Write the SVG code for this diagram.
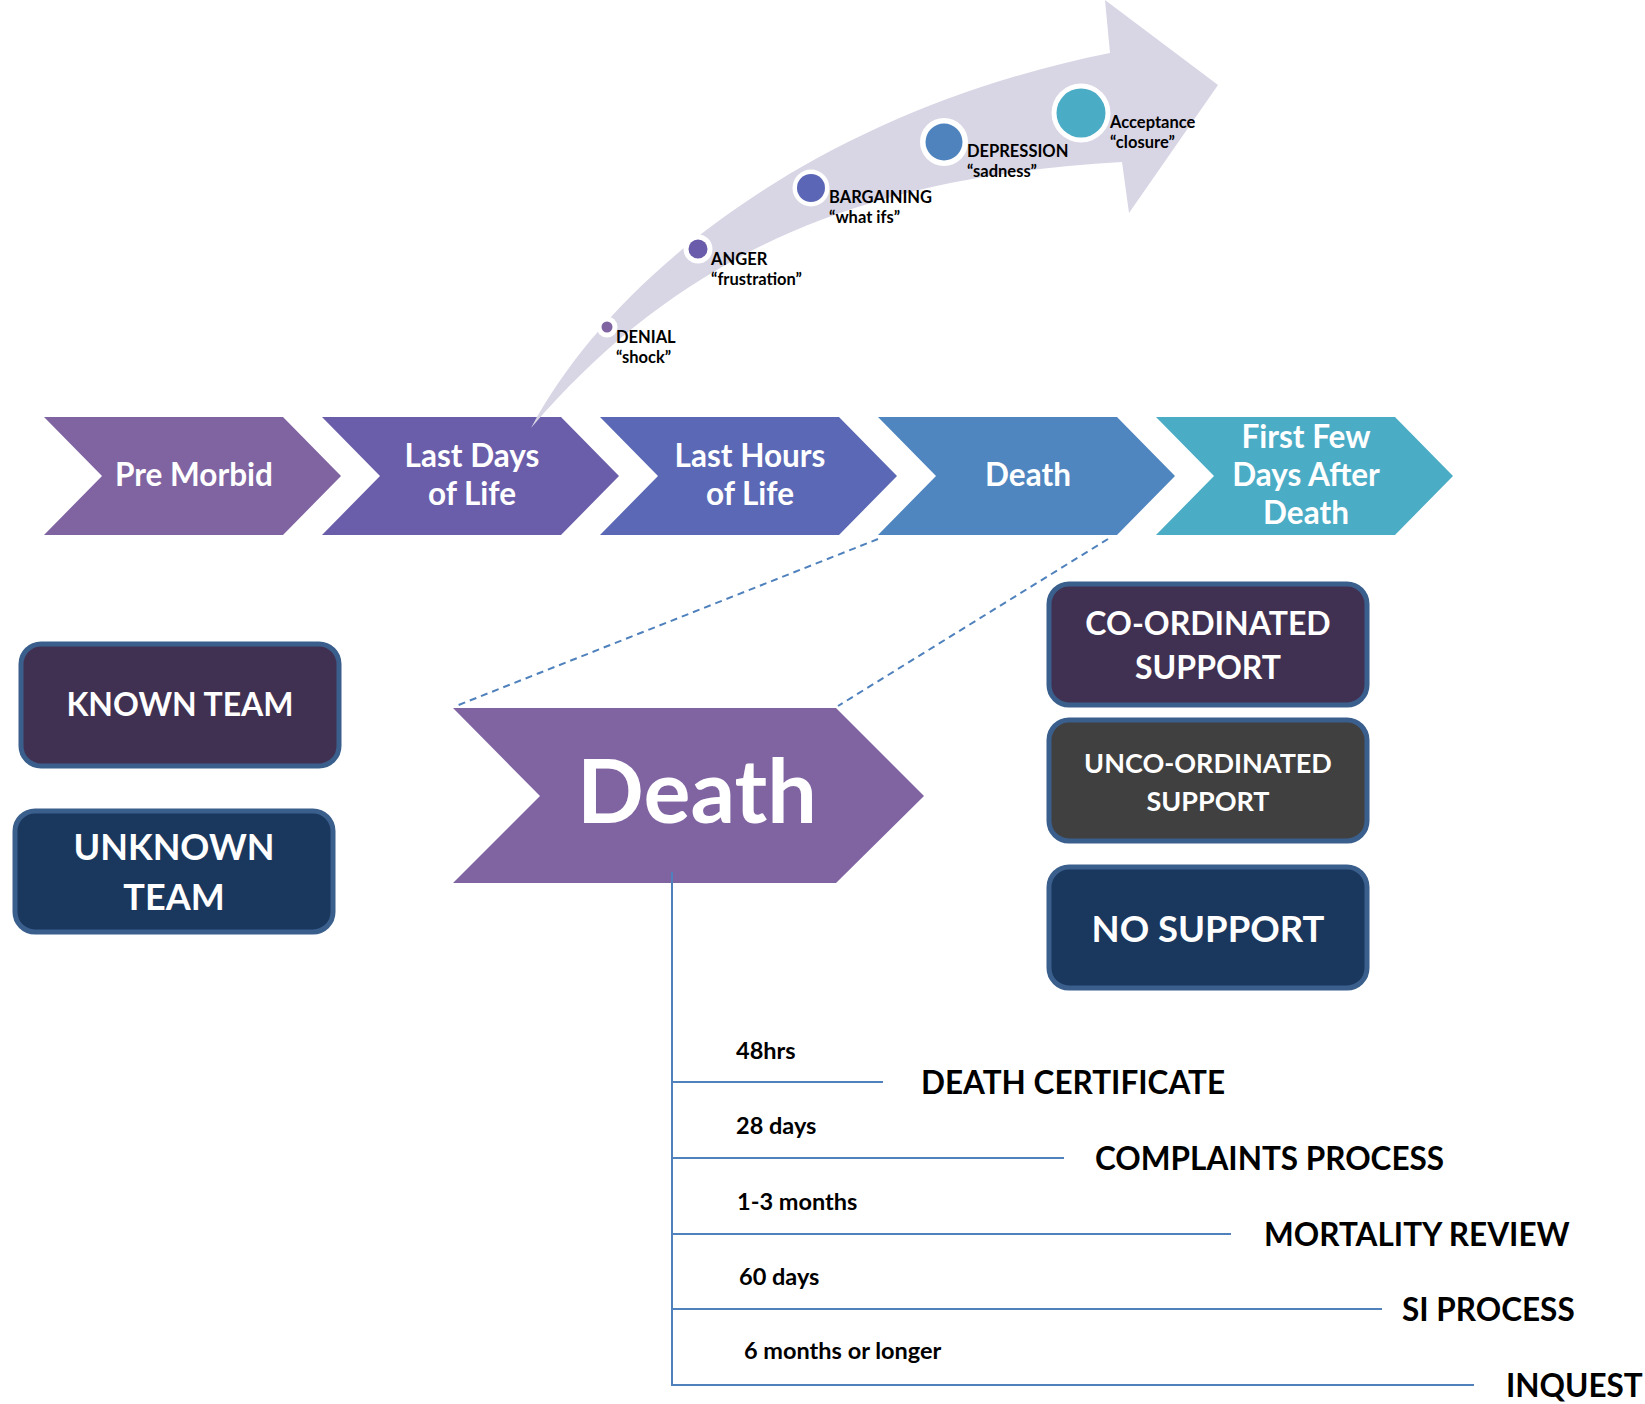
<svg xmlns="http://www.w3.org/2000/svg" width="1645" height="1404" viewBox="0 0 1645 1404">
<style>
text{font-family:Lato,"Open Sans","Liberation Sans",sans-serif;font-weight:bold}
.w{fill:#ffffff}
.k{fill:#000000}
.chev{font-size:31.5px}
.stage{font-size:16.5px}
.box{stroke:#3A5F8D;stroke-width:5}
.dash{fill:none;stroke:#4F81BD;stroke-width:2;stroke-dasharray:7 5}
.tl{fill:none;stroke:#4F81BD;stroke-width:2}
.ring{fill:#ffffff}
.sm{font-size:23.5px}
.lg{font-size:31.5px}
</style>
<rect width="1645" height="1404" fill="#ffffff"/>

<g id="chevron-pre-morbid">
<polygon points="44,417 283,417 341,476 283,535 44,535 102,476" fill="#8064A2"/>
<text class="chev w" x="194" y="486" text-anchor="middle">Pre Morbid</text>
</g>
<g id="chevron-last-days">
<polygon points="322,417 561,417 619,476 561,535 322,535 380,476" fill="#6A5DAA"/>
<text class="chev w" x="472" y="467" text-anchor="middle">Last Days</text>
<text class="chev w" x="472" y="505" text-anchor="middle">of Life</text>
</g>
<g id="chevron-last-hours">
<polygon points="600,417 839,417 897,476 839,535 600,535 658,476" fill="#5A68B5"/>
<text class="chev w" x="750" y="467" text-anchor="middle">Last Hours</text>
<text class="chev w" x="750" y="505" text-anchor="middle">of Life</text>
</g>
<g id="chevron-death">
<polygon points="878,417 1117,417 1175,476 1117,535 878,535 936,476" fill="#5086BF"/>
<text class="chev w" x="1028" y="486" text-anchor="middle">Death</text>
</g>
<g id="chevron-after-death">
<polygon points="1156,417 1395,417 1453,476 1395,535 1156,535 1214,476" fill="#4BACC6"/>
<text class="chev w" x="1306" y="448" text-anchor="middle">First Few</text>
<text class="chev w" x="1306" y="486" text-anchor="middle">Days After</text>
<text class="chev w" x="1306" y="524" text-anchor="middle">Death</text>
</g>

<g id="grief-arrow">
<path d="M531,428 C612,276 815,112 1110,53 L1105,0 L1218,85 L1129,213 L1122,162 C900,175 700,230 531,428 Z" fill="#D8D5E5"/>
</g>

<g id="stage-denial">
<circle cx="607" cy="327" r="10.5" class="ring"/><circle cx="607" cy="327" r="5.5" fill="#8064A2"/>
<text class="stage k" x="616" y="343">DENIAL</text>
<text class="stage k" x="616" y="363">“shock”</text>
</g>
<g id="stage-anger">
<circle cx="698" cy="249" r="14.5" class="ring"/><circle cx="698" cy="249" r="9.5" fill="#6A5CAA"/>
<text class="stage k" x="711" y="265">ANGER</text>
<text class="stage k" x="711" y="285">“frustration”</text>
</g>
<g id="stage-bargaining">
<circle cx="811" cy="188" r="18.5" class="ring"/><circle cx="811" cy="188" r="14" fill="#5B67B6"/>
<text class="stage k" x="829" y="203">BARGAINING</text>
<text class="stage k" x="829" y="223">“what ifs”</text>
</g>
<g id="stage-depression">
<circle cx="944" cy="142" r="24" class="ring"/><circle cx="944" cy="142" r="18.5" fill="#4F83BE"/>
<text class="stage k" x="967" y="157">DEPRESSION</text>
<text class="stage k" x="967" y="177">“sadness”</text>
</g>
<g id="stage-acceptance">
<circle cx="1081" cy="113" r="29.5" class="ring"/><circle cx="1081" cy="113" r="24.5" fill="#4BACC6"/>
<text class="stage k" x="1110" y="128">Acceptance</text>
<text class="stage k" x="1110" y="148">“closure”</text>
</g>

<g id="big-death">
<polygon points="453,708 836,708 924,796 836,883 453,883 540,796" fill="#8064A2"/>
<text class="w" x="697" y="823" text-anchor="middle" font-size="88">Death</text>
</g>

<g id="known-team">
<rect x="21" y="644" width="318" height="122" rx="20" fill="#403152" class="box"/>
<text class="w" x="180" y="716" text-anchor="middle" font-size="32">KNOWN TEAM</text>
</g>
<g id="unknown-team">
<rect x="15" y="811" width="318" height="121" rx="20" fill="#1A375E" class="box"/>
<text class="w" x="174" y="860" text-anchor="middle" font-size="36">UNKNOWN</text>
<text class="w" x="174" y="910" text-anchor="middle" font-size="36">TEAM</text>
</g>
<g id="coordinated-support">
<rect x="1049" y="584" width="318" height="121" rx="20" fill="#403152" class="box"/>
<text class="w" x="1208" y="635" text-anchor="middle" font-size="32">CO-ORDINATED</text>
<text class="w" x="1208" y="679" text-anchor="middle" font-size="32">SUPPORT</text>
</g>
<g id="uncoordinated-support">
<rect x="1049" y="720" width="318" height="121" rx="20" fill="#404040" class="box"/>
<text class="w" x="1208" y="773" text-anchor="middle" font-size="27">UNCO-ORDINATED</text>
<text class="w" x="1208" y="811" text-anchor="middle" font-size="27">SUPPORT</text>
</g>
<g id="no-support">
<rect x="1049" y="867" width="318" height="121" rx="20" fill="#1A375E" class="box"/>
<text class="w" x="1208" y="942" text-anchor="middle" font-size="36.5">NO SUPPORT</text>
</g>

<g id="connectors">
<line class="dash" x1="878" y1="539" x2="456" y2="706"/>
<line class="dash" x1="1108" y1="539" x2="838" y2="706"/>
<line class="tl" x1="672" y1="872" x2="672" y2="1386"/>
<line class="tl" x1="672" y1="1082" x2="883" y2="1082"/>
<line class="tl" x1="672" y1="1158" x2="1064" y2="1158"/>
<line class="tl" x1="672" y1="1234" x2="1231" y2="1234"/>
<line class="tl" x1="672" y1="1309" x2="1382" y2="1309"/>
<line class="tl" x1="672" y1="1385" x2="1474" y2="1385"/>
</g>

<g id="timeline-death-certificate">
<text class="sm k" x="736" y="1059">48hrs</text>
<text class="lg k" x="921" y="1094">DEATH CERTIFICATE</text>
</g>
<g id="timeline-complaints">
<text class="sm k" x="736" y="1134">28 days</text>
<text class="lg k" x="1095" y="1170">COMPLAINTS PROCESS</text>
</g>
<g id="timeline-mortality">
<text class="sm k" x="737" y="1210">1-3 months</text>
<text class="lg k" x="1264" y="1246">MORTALITY REVIEW</text>
</g>
<g id="timeline-si">
<text class="sm k" x="739" y="1285">60 days</text>
<text class="lg k" x="1402" y="1321">SI PROCESS</text>
</g>
<g id="timeline-inquest">
<text class="sm k" x="744" y="1359">6 months or longer</text>
<text class="lg k" x="1506" y="1397">INQUEST</text>
</g>
</svg>
